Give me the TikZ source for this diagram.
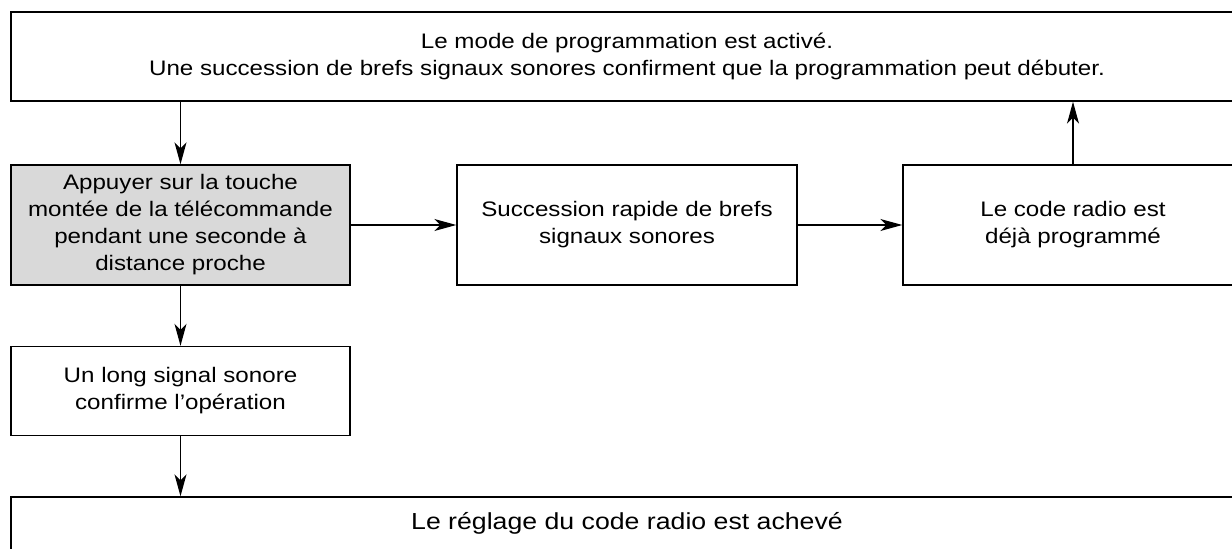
\documentclass[tikz,border=0pt]{standalone}
\usepackage{fontspec}
\setmainfont{Liberation Sans}[FakeStretch=1.15]
\usetikzlibrary{arrows.meta,positioning}
\definecolor{boxgray}{RGB}{217,217,217}

\begin{document}
\begin{tikzpicture}[font=\fontsize{10.5}{13.5}\selectfont,>={Stealth[length=11pt,width=6pt,inset=3pt]},x=0.5pt,y=-0.5pt,
  sb/.style={draw,line width=0.7pt,align=center,inner sep=0pt,minimum height=60pt,minimum width=170pt},
  wb/.style={draw,line width=0.7pt,align=center,inner sep=0pt,minimum height=44.5pt,minimum width=616pt},
  fl/.style={->,line width=0.65pt}]
  \useasboundingbox (0,0) rectangle (1232,549);
  \clip (0,0) rectangle (1232,549);
  % bandeaux
  \node[wb] (modeon) at (627,56.5) {Le mode de programmation est activ\'e.\\Une succession de brefs signaux sonores confirment que la programmation peut d\'ebuter.};
  \node[wb,font=\fontsize{11.6}{14}\selectfont] (done) at (627,541.5) {\raisebox{21pt}{Le r\'eglage du code radio est achev\'e}};
  % \'etapes
  \node[sb,fill=boxgray,minimum width=169.5pt] (press) at (180.5,225) {Appuyer sur la touche\\mont\'ee de la t\'el\'ecommande\\pendant une seconde \`a\\distance proche};
  \node[sb] (rapid) at (627,225) {Succession rapide de brefs\\signaux sonores};
  \node[sb] (known) at (1073,225) {Le code radio est\\d\'ej\`a programm\'e};
  \node[sb,minimum width=169.5pt,minimum height=44.5pt] (longsig) at (180.5,391) {Un long signal sonore\\confirme l'op\'eration};
  % fl\`eches
  \draw[fl] (press.north |- modeon.south) -- (press.north);
  \draw[fl] (press) -- (rapid);
  \draw[fl] (rapid) -- (known);
  \draw[fl] (known.north) -- (known.north |- modeon.south);
  \draw[fl] (press) -- (longsig);
  \draw[fl] (longsig.south) -- (longsig.south |- done.north);
\end{tikzpicture}
\end{document}
